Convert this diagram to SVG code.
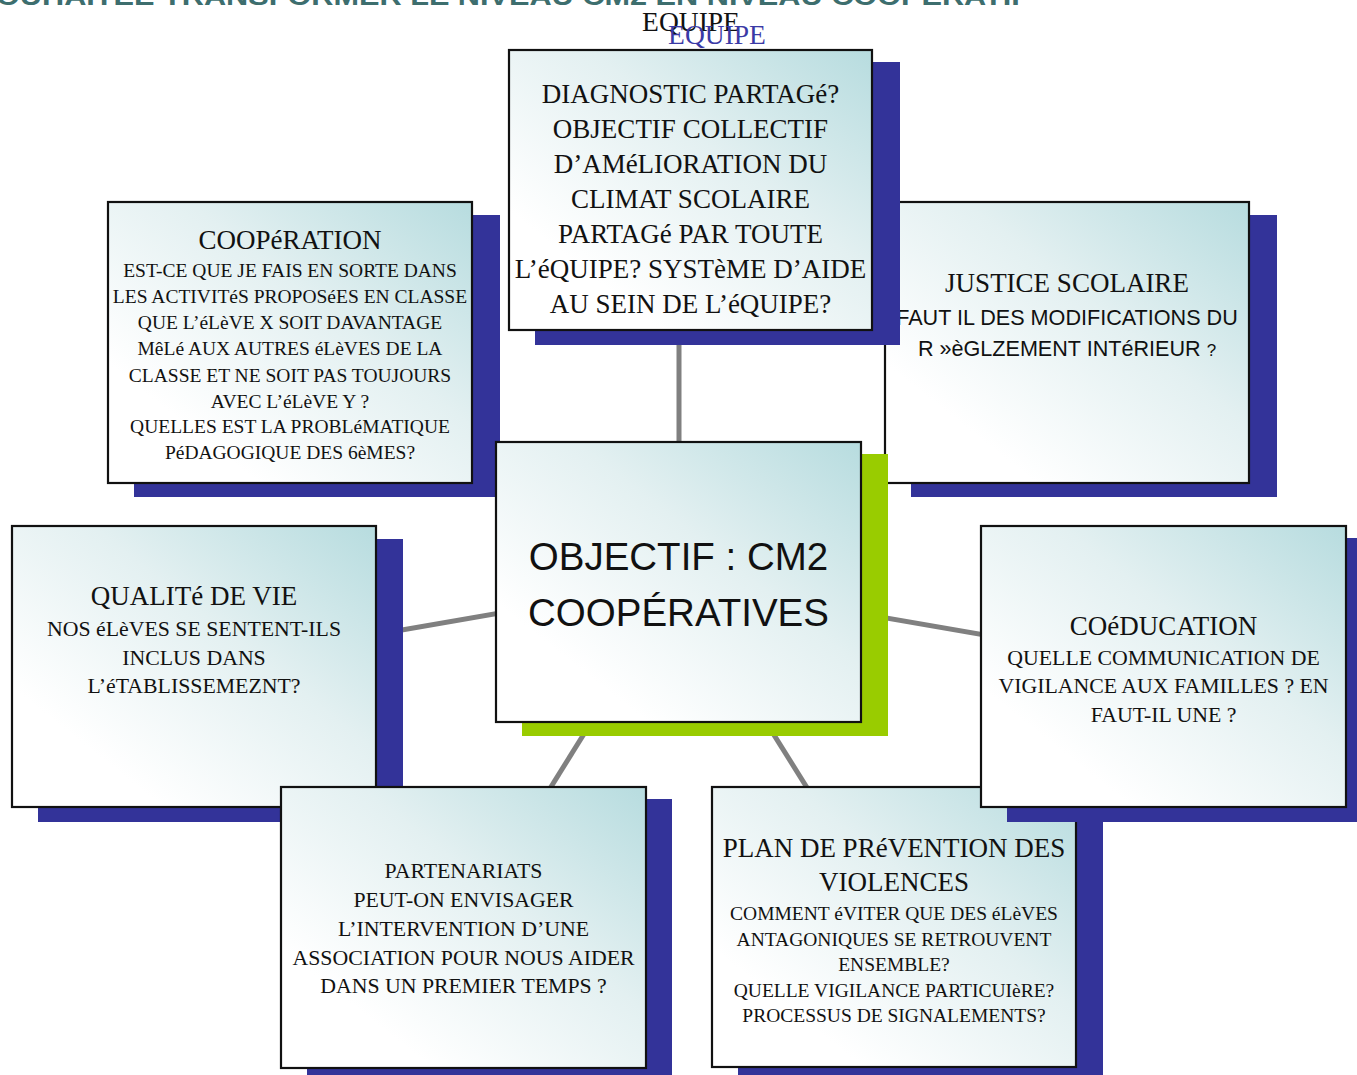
<svg xmlns="http://www.w3.org/2000/svg" width="1357" height="1075" viewBox="0 0 1357 1075">
<defs>
<linearGradient id="g" x1="1" y1="0" x2="0.2" y2="0.78">
<stop offset="0" stop-color="#B7DCDF"/>
<stop offset="0.5" stop-color="#E3F0F1"/>
<stop offset="1" stop-color="#FFFFFF"/>
</linearGradient>
<style>
.sh{fill:#333399}
.gr{fill:#99CC00}
.box{fill:url(#g);stroke:#111;stroke-width:2.2}
.t{font-family:"Liberation Serif","Times New Roman",serif;text-anchor:middle;fill:#111}
.h{font-size:27px}
.s20{font-size:19.5px}
.s22{font-size:21.8px}
.sans{font-family:"Liberation Sans",Arial,sans-serif;text-anchor:middle;fill:#111}
.con{stroke:#808080;stroke-width:5;fill:none}
</style>
</defs>
<rect width="1357" height="1075" fill="#ffffff"/>
<g id="title">
<text x="-4" y="5" font-family="'Liberation Sans',Arial,sans-serif" font-weight="bold" font-size="26" fill="#3D6E6E" textLength="1034" lengthAdjust="spacingAndGlyphs">OUHAITEE TRANSFORMER LE NIVEAU CM2 EN NIVEAU COOPERATIF</text>
<text class="t" x="691" y="31" font-size="27.5">EQUIPE</text>
<text class="t" x="717" y="44" font-size="27.5" style="fill:#3A3AA6">EQUIPE</text>
</g>
<g id="connectors">
<line class="con" x1="679" y1="300" x2="679" y2="500"/>
<line class="con" x1="194" y1="666" x2="678.5" y2="582"/>
<line class="con" x1="678.5" y1="582" x2="1163.5" y2="666"/>
<line class="con" x1="678.5" y1="582" x2="463.5" y2="927.5"/>
<line class="con" x1="678.5" y1="582" x2="894" y2="927"/>
</g>
<g id="justice">
<rect class="sh" x="911" y="215" width="366" height="282"/>
<rect class="box" x="885" y="202" width="364" height="281"/>
<text class="t h" x="1067" y="292">JUSTICE SCOLAIRE</text>
<text class="sans" font-size="21.6" x="1067" y="325">FAUT IL DES MODIFICATIONS DU</text>
<text class="sans" font-size="21.6" x="1067" y="356">R »èGLZEMENT INTéRIEUR <tspan font-size="17">?</tspan></text>
</g>
<g id="diagnostic">
<rect class="sh" x="535" y="62" width="365" height="283"/>
<rect class="box" x="509" y="50" width="363" height="280"/>
<text class="t h" x="690.5" y="102.5">DIAGNOSTIC PARTAGé?</text>
<text class="t h" x="690.5" y="137.5">OBJECTIF COLLECTIF</text>
<text class="t h" x="690.5" y="172.5">D’AMéLIORATION DU</text>
<text class="t h" x="690.5" y="207.5">CLIMAT SCOLAIRE</text>
<text class="t h" x="690.5" y="242.5">PARTAGé PAR TOUTE</text>
<text class="t h" x="690.5" y="277.5">L’éQUIPE? SYSTèME D’AIDE</text>
<text class="t h" x="690.5" y="312.5">AU SEIN DE L’éQUIPE?</text>
</g>
<g id="cooperation">
<rect class="sh" x="134" y="215" width="366" height="282"/>
<rect class="box" x="108" y="202" width="364" height="281"/>
<text class="t h" x="290" y="249">COOPéRATION</text>
<text class="t s20" x="290" y="277">EST-CE QUE JE FAIS EN SORTE DANS</text>
<text class="t s20" x="290" y="303">LES ACTIVITéS PROPOSéES EN CLASSE</text>
<text class="t s20" x="290" y="329">QUE L’éLèVE X SOIT DAVANTAGE</text>
<text class="t s20" x="290" y="355">MêLé AUX AUTRES éLèVES DE LA</text>
<text class="t s20" x="290" y="382">CLASSE ET NE SOIT PAS TOUJOURS</text>
<text class="t s20" x="290" y="408">AVEC L’éLèVE Y ?</text>
<text class="t s20" x="290" y="433">QUELLES EST LA PROBLéMATIQUE</text>
<text class="t s20" x="290" y="459">PéDAGOGIQUE DES 6èMES?</text>
</g>
<g id="centre">
<rect class="gr" x="522" y="454" width="366" height="282"/>
<rect class="box" x="496" y="442" width="365" height="280"/>
<text class="sans" font-size="38.5" x="678.5" y="570">OBJECTIF : CM2</text>
<text class="sans" font-size="38.5" x="678.5" y="626">COOPÉRATIVES</text>
</g>
<g id="qualite">
<rect class="sh" x="38" y="539" width="365" height="283"/>
<rect class="box" x="12" y="526" width="364" height="281"/>
<text class="t h" x="194" y="605">QUALITé DE VIE</text>
<text class="t s22" x="194" y="635.5">NOS éLèVES SE SENTENT-ILS</text>
<text class="t s22" x="194" y="664.5">INCLUS DANS</text>
<text class="t s22" x="194" y="692.5">L’éTABLISSEMEZNT?</text>
</g>
<g id="partenariats">
<rect class="sh" x="307" y="799" width="365" height="283"/>
<rect class="box" x="281" y="787" width="365" height="281"/>
<text class="t s22" x="463.5" y="878">PARTENARIATS</text>
<text class="t s22" x="463.5" y="907">PEUT-ON ENVISAGER</text>
<text class="t s22" x="463.5" y="936">L’INTERVENTION D’UNE</text>
<text class="t s22" x="463.5" y="965">ASSOCIATION POUR NOUS AIDER</text>
<text class="t s22" x="463.5" y="993">DANS UN PREMIER TEMPS ?</text>
</g>
<g id="plan">
<rect class="sh" x="738" y="799" width="365" height="283"/>
<rect class="box" x="712" y="787" width="364" height="280"/>
<text class="t h" x="894" y="857">PLAN DE PRéVENTION DES</text>
<text class="t h" x="894" y="891">VIOLENCES</text>
<text class="t s20" x="894" y="919.5">COMMENT éVITER QUE DES éLèVES</text>
<text class="t s20" x="894" y="945.5">ANTAGONIQUES SE RETROUVENT</text>
<text class="t s20" x="894" y="970.5">ENSEMBLE?</text>
<text class="t s20" x="894" y="996.5">QUELLE VIGILANCE PARTICUIèRE?</text>
<text class="t s20" x="894" y="1021.5">PROCESSUS DE SIGNALEMENTS?</text>
</g>
<g id="coeducation">
<rect class="sh" x="1007" y="538" width="366" height="284"/>
<rect class="box" x="981" y="526" width="365" height="281"/>
<text class="t h" x="1163.5" y="635">COéDUCATION</text>
<text class="t s22" x="1163.5" y="664.5">QUELLE COMMUNICATION DE</text>
<text class="t s22" x="1163.5" y="692.5">VIGILANCE AUX FAMILLES ? EN</text>
<text class="t s22" x="1163.5" y="721.5">FAUT-IL UNE ?</text>
</g>
</svg>
